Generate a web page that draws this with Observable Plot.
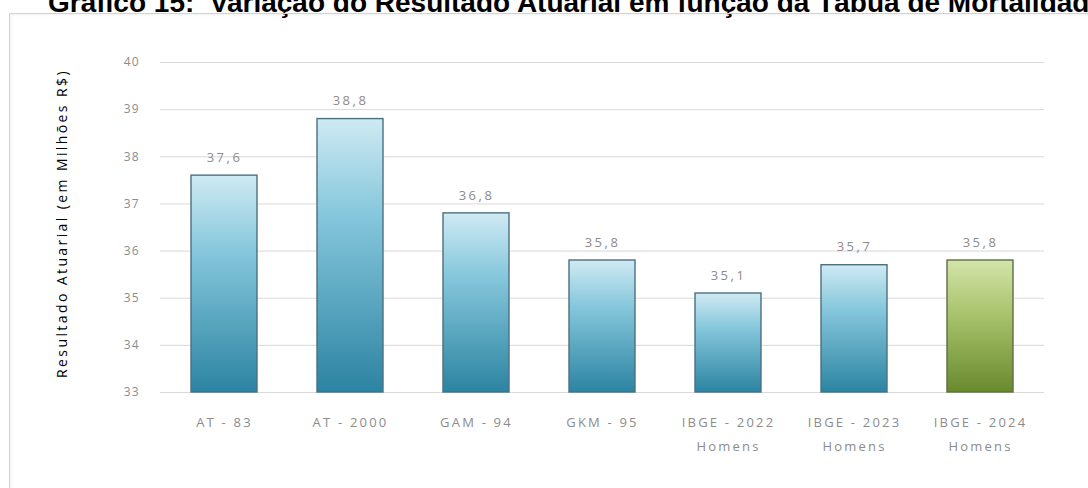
<!DOCTYPE html>
<html>
<head>
<meta charset="utf-8">
<script src="https://cdn.jsdelivr.net/npm/d3@7"></script>
<script src="https://cdn.jsdelivr.net/npm/@observablehq/plot@0.6"></script>
<style>
  html, body { margin: 0; padding: 0; background: #fff; overflow: hidden; }
  body { width: 1088px; height: 488px; position: relative; font-family: "Liberation Sans", Arial, sans-serif; }
  #title { position: absolute; left: 48px; top: -11px; white-space: nowrap; font: bold 28px/28px "Liberation Sans", Arial, sans-serif; color: #000; }
  #frame { position: absolute; left: 9px; top: 13px; width: 1100px; height: 500px; border: 1px solid #d2d2d2; box-shadow: inset 1px 1px 3px rgba(0,0,0,0.06); box-sizing: border-box; }
  #chart { position: absolute; left: 9px; top: 13px; }
</style>
</head>
<body>
<div id="title">Gráfico 15:&nbsp; Variação do Resultado Atuarial em função da Tábua de Mortalidade</div>
<div id="frame"></div>
<div id="chart"></div>
<script>
const categories = ["AT - 83", "AT - 2000", "GAM - 94", "GKM - 95", "IBGE - 2022\nHomens", "IBGE - 2023\nHomens", "IBGE - 2024\nHomens"];
const values = [37.6, 38.8, 36.8, 35.8, 35.1, 35.7, 35.8];
const valueLabels = ["37,6", "38,8", "36,8", "35,8", "35,1", "35,7", "35,8"];
const highlighted = ["IBGE - 2024\nHomens"];
const yTicks = [33, 34, 35, 36, 37, 38, 39, 40];
const yLabel = "Resultado Atuarial (em Milhões R$)";

const data = categories.map((c, i) => ({category: c, value: values[i], label: valueLabels[i], hi: highlighted.includes(c)}));
const baseline = 33;

const plot = Plot.plot({
  width: 1079,
  height: 475,
  marginLeft: 151,
  marginRight: 44,
  marginTop: 49,
  marginBottom: 96,
  style: {fontFamily: "'Open Sans', 'DejaVu Sans', sans-serif", fontSize: "12px", background: "transparent"},
  x: {domain: categories, paddingInner: 0.48, paddingOuter: 0.24, label: null},
  y: {domain: [33, 40], label: null},
  marks: [
    Plot.gridY(yTicks, {stroke: "#d9d9d9", strokeOpacity: 1, strokeWidth: 1}),
    Plot.axisY(yTicks, {tickSize: 0, tickPadding: 21, fill: "#8c8c8c", fontSize: 12, label: null}),
    Plot.axisX({tickSize: 0, tickPadding: 17, fill: "#8c8c8c", fontSize: 13, lineHeight: 1.85, label: null}),
    Plot.barY(data.filter(d => !d.hi), {x: "category", y1: () => baseline, y2: "value", fill: "url(#gradBlue)", stroke: "#4b7080", strokeWidth: 1.4, inset: 0}),
    Plot.barY(data.filter(d => d.hi), {x: "category", y1: () => baseline, y2: "value", fill: "url(#gradGreen)", stroke: "#5c6e44", strokeWidth: 1.4, inset: 0}),
    Plot.text(data, {x: "category", y: "value", text: "label", dy: -18, fill: "#8c8c8c", fontSize: 13}),
    Plot.text([yLabel], {frameAnchor: "left", textAnchor: "middle", dx: -98, dy: -4, rotate: -90, text: d => d, fill: "#000", fontSize: 14})
  ]
});

const svg = d3.select(plot);
svg.selectAll('g[aria-label="x-axis tick label"]').attr("letter-spacing", "2.2px");
svg.selectAll('g[aria-label="y-axis tick label"]').attr("letter-spacing", "1px");
svg.selectAll('g[aria-label="text"]').attr("letter-spacing", "2.5px");
svg.selectAll('g[aria-label="text"] text').filter(function() { return this.textContent === yLabel; }).attr("letter-spacing", "2.4px");
const defs = svg.insert("defs", ":first-child");
const gb = defs.append("linearGradient").attr("id", "gradBlue").attr("x1", 0).attr("y1", 0).attr("x2", 0).attr("y2", 1);
gb.append("stop").attr("offset", "0%").attr("stop-color", "#cfeaf3");
gb.append("stop").attr("offset", "35%").attr("stop-color", "#86c7dc");
gb.append("stop").attr("offset", "100%").attr("stop-color", "#2c84a2");
const gg = defs.append("linearGradient").attr("id", "gradGreen").attr("x1", 0).attr("y1", 0).attr("x2", 0).attr("y2", 1);
gg.append("stop").attr("offset", "0%").attr("stop-color", "#d4e4aa");
gg.append("stop").attr("offset", "40%").attr("stop-color", "#a9c46d");
gg.append("stop").attr("offset", "100%").attr("stop-color", "#6a8a2e");

document.getElementById("chart").appendChild(plot);
</script>
</body>
</html>
